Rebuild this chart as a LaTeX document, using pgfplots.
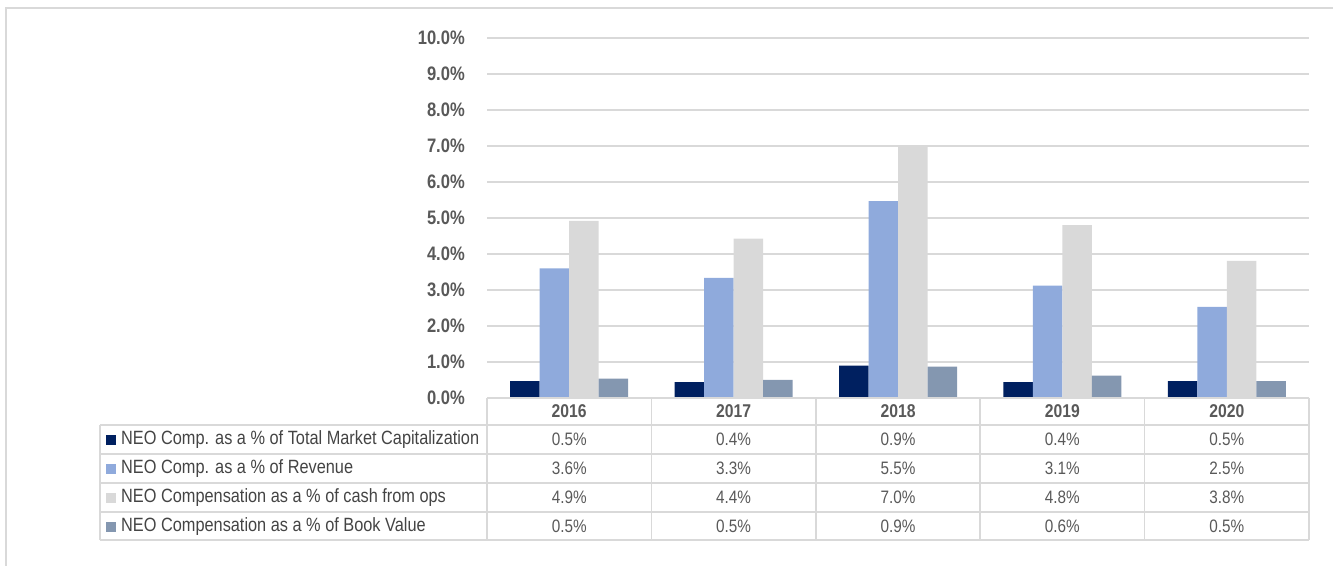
\documentclass[border=0pt]{standalone}
\usepackage{pgfplots}
\pgfplotsset{compat=1.18}
\usepackage{fontspec}
\setmainfont[FakeStretch=0.85]{Liberation Sans}
\definecolor{navy}{HTML}{002060}
\definecolor{lblue}{HTML}{8FAADC}
\definecolor{lgray}{HTML}{D9D9D9}
\definecolor{slate}{HTML}{8497B0}
\definecolor{txt}{HTML}{595959}
\definecolor{txtd}{HTML}{444444}
\definecolor{gridc}{HTML}{D9D9D9}
\begin{document}
\begin{tikzpicture}[x=1bp,y=1bp]
\useasboundingbox (0,0) rectangle (1333,566);
\draw[gridc, line width=1.5bp] (6,0) -- (6,558) -- (1333,558);
\begin{axis}[
  at={(487bp,168bp)}, anchor=south west,
  scale only axis, width=822bp, height=360bp,
  xmin=-0.5, xmax=4.5, ymin=0, ymax=10,
  ybar=0pt, bar width=29.5bp,
  axis line style={draw=none},
  major tick length=0pt,
  xtick=\empty,
  ytick={0,1,2,3,4,5,6,7,8,9,10},
  yticklabels={0.0\%,1.0\%,2.0\%,3.0\%,4.0\%,5.0\%,6.0\%,7.0\%,8.0\%,9.0\%,10.0\%},
  yticklabel style={font=\fontsize{19.5bp}{21bp}\selectfont\bfseries, text=txt, anchor=east, inner sep=0pt, xshift=-22bp},
  ymajorgrids,
  grid style={draw=gridc, line width=1.5bp},
]
\addplot[fill=navy, draw=none] coordinates {(0,0.47) (1,0.44) (2,0.90) (3,0.44) (4,0.47)};
\addplot[fill=lblue, draw=none] coordinates {(0,3.60) (1,3.34) (2,5.47) (3,3.12) (4,2.53)};
\addplot[fill=lgray, draw=none] coordinates {(0,4.92) (1,4.43) (2,7.00) (3,4.80) (4,3.81)};
\addplot[fill=slate, draw=none] coordinates {(0,0.54) (1,0.50) (2,0.87) (3,0.62) (4,0.47)};
\end{axis}
% data table
\begin{scope}[gridc, line width=1.5bp]
\draw (487,168) -- (1309,168);
\foreach \yy in {141,112,83,54,26} \draw (100,\yy) -- (1309,\yy);
\draw (100,141) -- (100,26);
\foreach \xx in {487,651.4,815.8,980.2,1144.6,1309} \draw (\xx,168) -- (\xx,26);
\end{scope}
\foreach \yr [count=\i from 0] in {2016,2017,2018,2019,2020}
  \node[text=txt, font=\fontsize{18.5bp}{20bp}\selectfont\bfseries, inner sep=0pt] at (569.2+\i*164.4,154.5) {\yr};
\foreach \lab/\col/\yy in {NEO Comp. as a \% of Total Market Capitalization/navy/126.5,
                          NEO Comp. as a \% of Revenue/lblue/97.5,
                          NEO Compensation as a \% of cash from ops/lgray/68.5,
                          NEO Compensation as a \% of Book Value/slate/39.5}{
  \fill[\col] (106,\yy-6) rectangle (116,\yy+4);
  \node[anchor=west, text=txtd, font=\fontsize{19.2bp}{20bp}\selectfont, inner sep=0pt] at (121,\yy) {\lab};
}
\foreach \va/\vb/\vc/\vd [count=\i from 0] in {0.5/3.6/4.9/0.5, 0.4/3.3/4.4/0.5, 0.9/5.5/7.0/0.9, 0.4/3.1/4.8/0.6, 0.5/2.5/3.8/0.5}{
  \node[text=txt, font=\fontsize{18bp}{20bp}\selectfont, inner sep=0pt] at (569.2+\i*164.4,126.5) {\va\%};
  \node[text=txt, font=\fontsize{18bp}{20bp}\selectfont, inner sep=0pt] at (569.2+\i*164.4,97.5) {\vb\%};
  \node[text=txt, font=\fontsize{18bp}{20bp}\selectfont, inner sep=0pt] at (569.2+\i*164.4,68.5) {\vc\%};
  \node[text=txt, font=\fontsize{18bp}{20bp}\selectfont, inner sep=0pt] at (569.2+\i*164.4,39.5) {\vd\%};
}
\end{tikzpicture}
\end{document}
